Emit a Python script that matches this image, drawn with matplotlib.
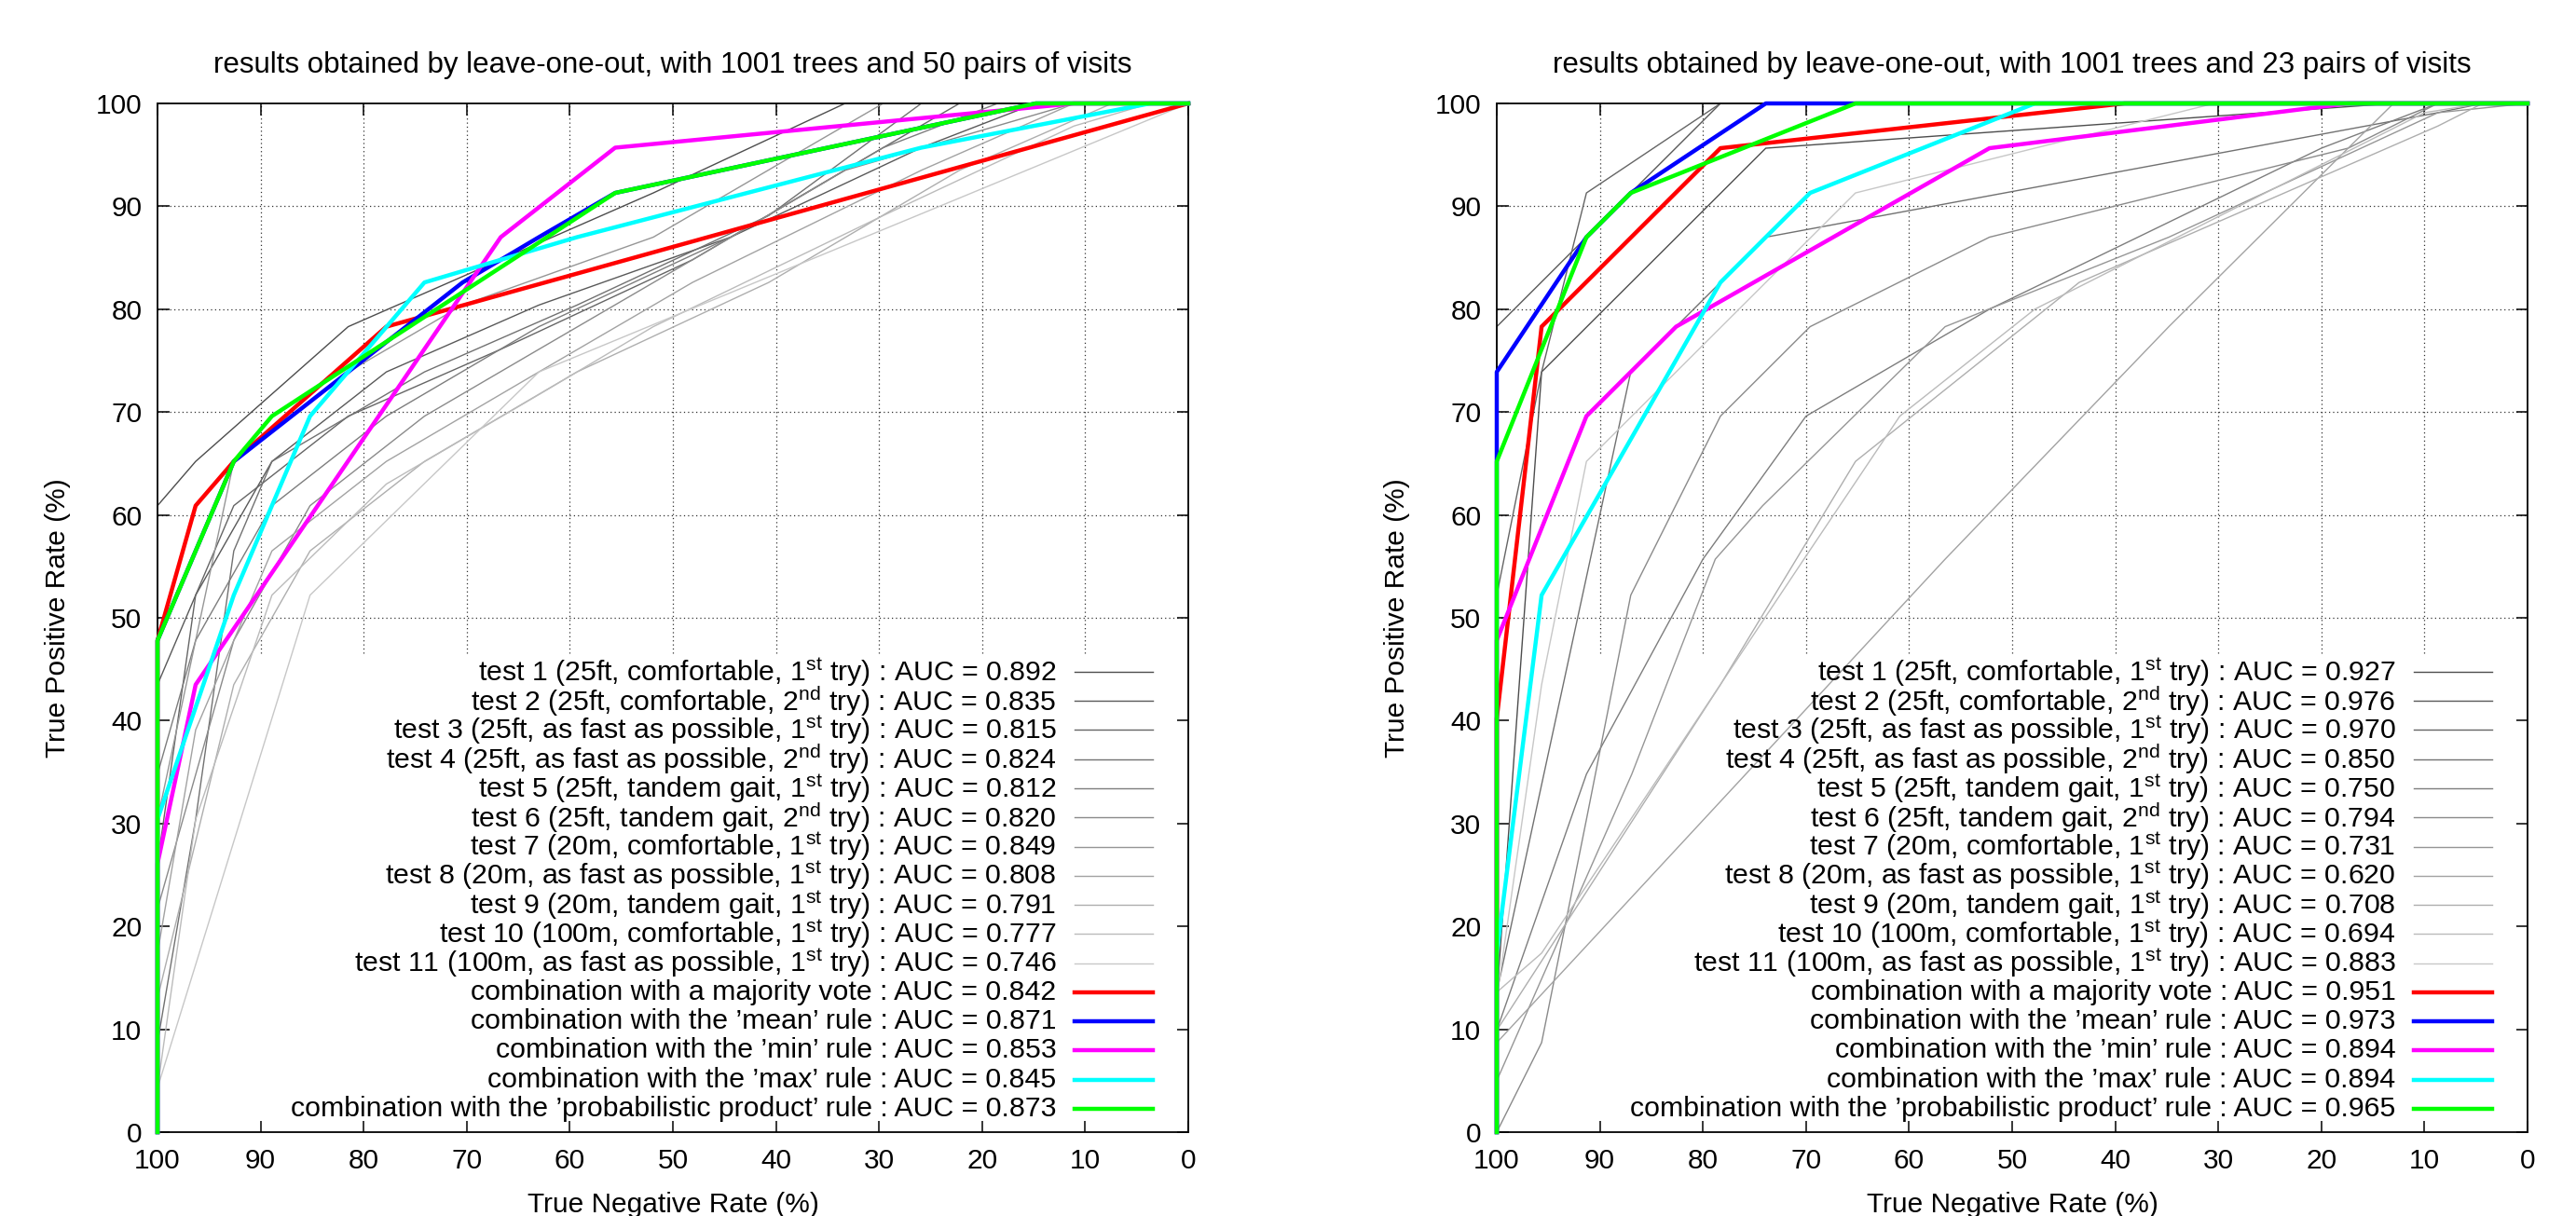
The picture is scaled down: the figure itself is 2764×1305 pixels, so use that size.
import matplotlib
matplotlib.use('Agg')
import matplotlib.pyplot as plt

plt.rcParams['font.family'] = ['Liberation Sans', 'DejaVu Sans']
plt.rcParams['mathtext.fontset'] = 'custom'
plt.rcParams['mathtext.rm'] = 'Liberation Sans'
plt.rcParams['mathtext.default'] = 'rm'

# legend labels
test_labels = [
    'test 1 (25ft, comfortable, 1$^{st}$ try)',
    'test 2 (25ft, comfortable, 2$^{nd}$ try)',
    'test 3 (25ft, as fast as possible, 1$^{st}$ try)',
    'test 4 (25ft, as fast as possible, 2$^{nd}$ try)',
    'test 5 (25ft, tandem gait, 1$^{st}$ try)',
    'test 6 (25ft, tandem gait, 2$^{nd}$ try)',
    'test 7 (20m, comfortable, 1$^{st}$ try)',
    'test 8 (20m, as fast as possible, 1$^{st}$ try)',
    'test 9 (20m, tandem gait, 1$^{st}$ try)',
    'test 10 (100m, comfortable, 1$^{st}$ try)',
    'test 11 (100m, as fast as possible, 1$^{st}$ try)',
]
combo_labels = [
    'combination with a majority vote',
    'combination with the \u2019mean\u2019 rule',
    'combination with the \u2019min\u2019 rule',
    'combination with the \u2019max\u2019 rule',
    'combination with the \u2019probabilistic product\u2019 rule',
]
combo_colors = ['#ff0000', '#0000ff', '#ff00ff', '#00ffff', '#00ff00']

titles = ['results obtained by leave-one-out, with 1001 trees and 50 pairs of visits',
          'results obtained by leave-one-out, with 1001 trees and 23 pairs of visits']

left_auc_tests = [0.892, 0.835, 0.815, 0.824, 0.812, 0.820, 0.849, 0.808, 0.791, 0.777, 0.746]
left_auc_combos = [0.842, 0.871, 0.853, 0.845, 0.873]
right_auc_tests = [0.927, 0.976, 0.970, 0.850, 0.750, 0.794, 0.731, 0.620, 0.708, 0.694, 0.883]
right_auc_combos = [0.951, 0.973, 0.894, 0.894, 0.965]

# ROC points, (true negative rate, true positive rate) in %
left_t1 = [(100, 0), (100, 60.9), (96.3, 65.2), (81.5, 78.3), (66.7, 84.8), (51.9, 91.3), (33.3, 100), (0, 100)]
left_t2 = [(100, 0), (100, 43.5), (96.3, 52.2), (88.9, 65.2), (77.8, 73.9), (63.0, 80.4), (44.4, 87.0), (25.9, 95.7), (14.8, 100), (0, 100)]
left_t3 = [(100, 0), (100, 26.1), (96.3, 52.2), (92.6, 60.9), (81.5, 69.6), (66.7, 76.1), (48.1, 84.8), (29.6, 95.7), (22.2, 100), (0, 100)]
left_t4 = [(100, 0), (100, 8.7), (96.3, 30.4), (92.6, 56.5), (88.9, 65.2), (74.1, 73.9), (59.3, 80.4), (40.7, 89.1), (25.9, 100), (0, 100)]
left_t5 = [(100, 0), (100, 34.8), (96.3, 47.8), (88.9, 60.9), (77.8, 69.6), (63.0, 78.3), (44.4, 87.0), (29.6, 95.7), (18.5, 100), (0, 100)]
left_t6 = [(100, 0), (100, 21.7), (92.6, 47.8), (85.2, 60.9), (74.1, 69.6), (63.0, 76.1), (48.1, 84.8), (33.3, 93.5), (11.1, 100), (0, 100)]
left_t7 = [(100, 0), (100, 30.4), (96.3, 47.8), (92.6, 65.2), (81.5, 73.9), (70.4, 80.4), (51.9, 87.0), (37.0, 95.7), (29.6, 100), (0, 100)]
left_t8 = [(100, 0), (100, 17.4), (96.3, 39.1), (88.9, 56.5), (77.8, 65.2), (63.0, 73.9), (48.1, 82.6), (25.9, 93.5), (11.1, 100), (0, 100)]
left_t9 = [(100, 0), (100, 13.0), (92.6, 43.5), (85.2, 56.5), (74.1, 65.2), (59.3, 73.9), (40.7, 82.6), (22.2, 93.5), (7.4, 100), (0, 100)]
left_t10 = [(100, 0), (100, 4.3), (96.3, 30.4), (88.9, 52.2), (77.8, 63.0), (63.0, 71.7), (51.9, 78.3), (29.6, 89.1), (11.1, 97.8), (3.7, 100), (0, 100)]
left_t11 = [(100, 0), (100, 4.3), (85.2, 52.2), (63.0, 73.9), (0, 100)]

left_vote = [(100, 0), (100, 47.8), (96.3, 60.9), (92.6, 65.2), (77.8, 78.3), (0, 100)]
left_mean = [(100, 0), (100, 47.8), (96.3, 56.5), (92.6, 65.2), (81.5, 73.9), (70.4, 82.6), (63.0, 87.0), (55.6, 91.3), (14.8, 100), (0, 100)]
left_min = [(100, 0), (100, 26.1), (96.3, 43.5), (66.7, 87.0), (55.6, 95.7), (11.1, 100), (0, 100)]
left_max = [(100, 0), (100, 30.4), (92.6, 52.2), (85.2, 69.6), (74.1, 82.6), (59.3, 87.0), (25.9, 95.7), (3.7, 100), (0, 100)]
left_prod = [(100, 0), (100, 47.8), (92.6, 65.2), (88.9, 69.6), (55.6, 91.3), (14.8, 100), (0, 100)]

right_t1 = [(100, 0), (100, 13.0), (95.65, 73.9), (73.9, 95.65), (13.0, 100), (0, 100)]
right_t2 = [(100, 0), (100, 78.3), (78.3, 100), (0, 100)]
right_t3 = [(100, 0), (100, 52.2), (95.65, 73.9), (91.3, 91.3), (78.3, 100), (0, 100)]
right_t4 = [(100, 0), (100, 13.6), (87.0, 73.9), (73.9, 87.0), (8.7, 99.1), (4.35, 100), (0, 100)]
right_t5 = [(100, 0), (100, 9.9), (91.3, 34.8), (80.0, 55.7), (70.0, 69.6), (52.2, 80.0), (20.0, 95.65), (8.7, 100), (0, 100)]
right_t6 = [(100, 0), (95.65, 8.7), (91.3, 30.4), (87.0, 52.2), (78.3, 69.6), (69.6, 78.3), (52.2, 87.0), (17.4, 95.65), (8.7, 100), (0, 100)]
right_t7 = [(100, 0), (100, 5.0), (86.9, 34.8), (78.8, 55.7), (74.2, 60.9), (56.5, 78.3), (34.8, 87.0), (8.7, 99.1), (0, 100)]
right_t8 = [(100, 0), (100, 8.7), (56.5, 55.7), (34.8, 78.3), (17.4, 95.65), (13.0, 100), (0, 100)]
right_t9 = [(100, 0), (100, 9.9), (78.3, 43.5), (65.2, 65.2), (43.5, 82.6), (8.7, 97.8), (4.35, 100), (0, 100)]
right_t10 = [(100, 0), (100, 13.6), (95.65, 17.4), (70.2, 55.7), (60.9, 69.6), (47.8, 80.0), (10.0, 99.1), (4.35, 100), (0, 100)]
right_t11 = [(100, 0), (100, 13.0), (95.65, 43.5), (91.3, 65.2), (65.2, 91.3), (30.4, 100), (0, 100)]

right_vote = [(100, 0), (100, 40.2), (95.65, 78.3), (78.3, 95.65), (39.1, 100), (0, 100)]
right_mean = [(100, 0), (100, 73.9), (91.3, 87.0), (87.0, 91.3), (73.9, 100), (0, 100)]
right_min = [(100, 0), (100, 47.8), (91.3, 69.6), (82.6, 78.3), (52.2, 95.65), (17.4, 100), (0, 100)]
right_max = [(100, 0), (100, 17.4), (95.65, 52.2), (78.3, 82.6), (69.6, 91.3), (47.8, 100), (0, 100)]
right_prod = [(100, 0), (100, 65.2), (91.3, 87.0), (87.0, 91.3), (65.2, 100), (0, 100)]

left_tests = [left_t1, left_t2, left_t3, left_t4, left_t5, left_t6, left_t7, left_t8, left_t9, left_t10, left_t11]
left_combos = [left_vote, left_mean, left_min, left_max, left_prod]
right_tests = [right_t1, right_t2, right_t3, right_t4, right_t5, right_t6, right_t7, right_t8, right_t9, right_t10, right_t11]
right_combos = [right_vote, right_mean, right_min, right_max, right_prod]

ticks = [0, 10, 20, 30, 40, 50, 60, 70, 80, 90, 100]
key_top = 46.6  # the key box hides the grid below this

W, H = 2764, 1305
fig = plt.figure(figsize=(W / 100, H / 100), dpi=100)

panels = [
    (169, left_tests, left_combos, left_auc_tests, left_auc_combos, titles[0]),
    (1606, right_tests, right_combos, right_auc_tests, right_auc_combos, titles[1]),
]

for x0, tests, combos, auc_t, auc_c, title in panels:
    ax = fig.add_axes([x0 / W, 1 - 1215 / H, 1106 / W, 1104 / H])
    ax.set_xlim(100, 0)
    ax.set_ylim(0, 100)
    ax.set_xticks(ticks)
    ax.set_yticks(ticks)
    ax.tick_params(direction='in', top=True, right=True, length=9, width=1.1,
                   labelsize=21.5, pad=12)
    for s in ax.spines.values():
        s.set_linewidth(1.3)

    # dotted grid, kept out of the key box
    for t in ticks[1:-1]:
        ax.plot([t, t], [key_top, 100], color='#303030', lw=0.9, ls=(0, (1, 2.5)), zorder=1)
        if t > key_top:
            ax.plot([100, 0], [t, t], color='#303030', lw=0.9, ls=(0, (1, 2.5)), zorder=1)

    n = len(tests)
    greys = [str(0.30 + 0.48 * i / (n - 1)) for i in range(n)]
    rows = []
    for i, pts in enumerate(tests):
        tnr, tpr = zip(*pts)
        ax.plot(tnr, tpr, color=greys[i], lw=1.0, zorder=2, clip_on=False)
        rows.append((test_labels[i] + ' : AUC = %.3f' % auc_t[i], greys[i], 1.0))
    for i, pts in enumerate(combos):
        tnr, tpr = zip(*pts)
        ax.plot(tnr, tpr, color=combo_colors[i], lw=3.2, zorder=3, clip_on=False)
        rows.append((combo_labels[i] + ' : AUC = %.3f' % auc_c[i], combo_colors[i], 3.2))

    # key, right-aligned text with a line sample
    for i, (lab, col, lw) in enumerate(rows):
        y = 0.4475 - i * 0.02832
        ax.text(0.872, y, lab, transform=ax.transAxes, ha='right', va='center', fontsize=21.8)
        ax.plot([0.890, 0.966], [y, y], transform=ax.transAxes, color=col, lw=lw, zorder=3)

    ax.text(0.5, 1.037, title, transform=ax.transAxes, ha='center', va='center', fontsize=22.5)
    ax.text(0.5, -0.058, 'True Negative Rate (%)', transform=ax.transAxes,
            ha='center', va='top', fontsize=21.5)
    ax.text(-0.097, 0.5, 'True Positive Rate (%)', transform=ax.transAxes,
            ha='center', va='center', rotation=90, fontsize=21.5)

fig.savefig('out.png', dpi=100)
